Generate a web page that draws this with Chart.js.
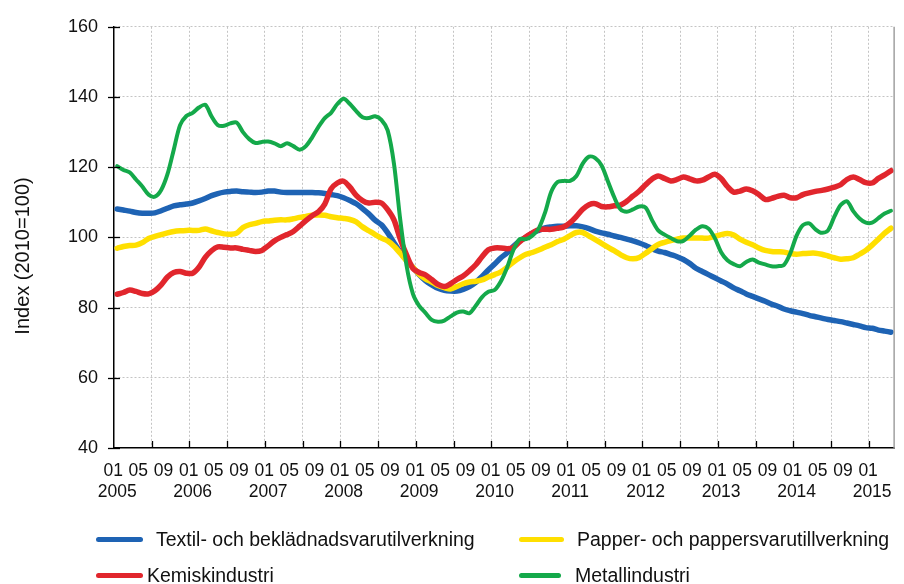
<!DOCTYPE html>
<html>
<head>
<meta charset="utf-8">
<script src="https://cdn.jsdelivr.net/npm/chart.js@4.4.1/dist/chart.umd.min.js"></script>
<style>
  html, body { margin: 0; padding: 0; background: #fff; }
  #wrap { position: relative; width: 904px; height: 584px; }
  canvas { position: absolute; left: 0; top: 0; }
  .lg { position: absolute; font-family: "Liberation Sans", Arial, sans-serif; font-size: 19.5px; color: #111; white-space: nowrap; line-height: 22px; }
  .sw { position: absolute; height: 5px; border-radius: 3px; }
</style>
</head>
<body>
<div id="wrap">
  <canvas id="c" width="904" height="584"></canvas>
</div>
<script>
// ---- Data (monthly index, 2010=100), Jan 2005 – Apr 2015 ----
const years = ['2005','2006','2007','2008','2009','2010','2011','2012','2013','2014','2015'];
const monthNames = ['01','02','03','04','05','06','07','08','09','10','11','12'];
const labeledMonths = ['01','05','09'];
const yTicks = [40, 60, 80, 100, 120, 140, 160];

const seriesNames = [
  'Textil- och beklädnadsvarutilverkning',
  'Papper- och pappersvarutillverkning',
  'Kemiskindustri',
  'Metallindustri'
];

const textil = [
 108.1,107.8,107.5,107.1,106.9,106.9,107.0,107.6,108.3,109.0,109.3,109.5,
 109.8,110.4,111.1,111.9,112.5,112.9,113.1,113.2,113.0,112.9,112.8,112.9,
 113.2,113.2,112.9,112.8,112.8,112.8,112.8,112.8,112.7,112.5,112.2,111.9,
 111.3,110.5,109.6,108.2,106.7,104.9,103.6,101.3,98.5,95.8,93.5,91.5,
 89.4,87.7,86.5,85.5,84.9,84.7,84.7,85.2,86.0,87.2,88.9,90.7,
 92.4,94.2,95.6,97.5,99.0,100.0,101.2,102.0,102.7,103.0,103.2,103.2,
 103.3,103.3,103.0,102.5,101.8,101.3,100.9,100.4,100.0,99.5,99.0,98.4,
 97.7,96.8,96.1,95.7,95.1,94.5,93.7,92.6,91.2,90.3,89.4,88.5,
 87.6,86.7,85.6,84.8,83.9,83.2,82.5,81.8,81.0,80.4,79.6,79.1,
 78.7,78.3,77.8,77.4,77.0,76.6,76.3,76.0,75.6,75.2,74.8,74.3,
 74.1,73.6,73.3,73.0
];
const papper = [
 96.9,97.4,97.7,97.8,98.5,99.7,100.3,100.8,101.3,101.7,101.9,102.0,
 102.0,102.0,102.4,101.9,101.4,101.0,100.9,101.2,102.8,103.6,104.0,104.5,
 104.7,104.9,105.0,105.0,105.3,105.7,106.0,106.3,106.4,106.3,105.9,105.6,
 105.4,105.1,104.4,103.0,101.9,100.8,99.8,99.0,97.5,95.5,93.3,91.5,
 89.5,88.2,87.3,86.3,85.7,85.3,86.0,86.8,87.3,87.5,87.9,88.7,
 89.4,90.2,91.5,93.0,94.2,95.2,95.7,96.4,97.2,97.9,98.8,99.5,
 100.5,101.4,101.4,100.4,99.4,98.3,97.2,96.2,95.1,94.2,93.9,94.3,
 95.5,96.8,98.0,98.6,99.1,99.5,99.8,99.8,99.8,99.8,99.8,100.3,
 100.8,101.1,100.7,99.5,98.6,97.9,97.0,96.3,96.0,95.9,95.8,95.4,
 95.2,95.4,95.5,95.5,95.2,94.7,94.2,93.8,93.9,94.2,95.2,96.3,
 97.8,99.5,101.2,102.6
];
const kemisk = [
 83.8,84.3,85.0,84.6,84.0,83.9,84.8,86.5,88.7,90.0,90.3,89.8,
 89.8,91.5,94.3,96.2,97.3,97.2,97.0,97.0,96.6,96.3,96.0,96.3,
 97.6,99.0,100.0,100.8,101.7,103.2,104.8,106.2,107.3,109.5,113.8,115.5,
 116.0,114.3,112.0,110.5,109.8,110.0,109.8,107.9,105.0,99.5,95.0,91.2,
 90.0,89.3,88.0,86.6,86.0,86.8,88.0,89.0,90.5,92.2,94.5,96.5,
 97.0,97.0,96.8,97.1,98.8,100.2,101.3,102.2,102.3,102.3,102.6,103.0,
 104.2,106.0,108.0,109.3,109.6,108.8,108.7,109.0,109.2,110.3,111.8,113.2,
 115.0,116.6,117.5,116.8,116.1,116.5,117.2,116.7,116.1,116.3,117.2,118.0,
 116.8,114.5,112.9,113.2,113.8,113.3,112.2,110.8,111.1,111.7,112.0,111.3,
 111.3,112.2,112.7,113.1,113.4,113.8,114.3,115.0,116.5,117.2,116.5,115.6,
 115.5,116.8,117.8,119.0
];
const metall = [
 120.3,119.2,118.5,116.5,114.5,112.2,111.6,113.5,118.0,125.0,132.0,134.6,
 135.5,137.0,137.8,134.5,132.0,131.8,132.5,132.7,130.0,128.0,126.9,127.2,
 127.3,126.8,126.0,126.8,126.0,125.0,126.0,128.5,131.5,134.0,135.5,138.0,
 139.5,138.0,136.0,134.2,134.0,134.5,133.5,130.5,121.0,105.0,92.0,84.0,
 80.5,78.5,76.5,76.0,76.3,77.5,78.6,78.9,78.4,80.5,83.0,84.5,
 85.0,87.5,91.5,96.5,99.5,99.5,100.5,102.5,107.0,113.0,115.8,116.1,
 116.1,117.5,121.0,123.0,122.6,120.5,116.0,111.5,108.0,107.3,108.0,108.8,
 108.5,105.0,102.0,100.8,99.8,98.9,99.0,100.5,102.2,103.2,102.5,99.8,
 95.8,93.5,92.4,91.8,93.0,93.7,92.8,92.3,91.8,91.8,92.2,95.5,
 100.5,103.5,104.0,102.3,101.3,102.0,105.9,109.2,110.3,107.5,105.4,104.2,
 104.2,105.5,106.8,107.6
];

// categories: one per month
const categories = [];
for (const y of years) for (const m of monthNames) {
  if (categories.length < textil.length) categories.push(y + '-' + m);
}

const colors = { textil: '#1e63b4', papper: '#ffdf00', kemisk: '#e1262d', metall: '#14a94a' };

// Legend (HTML, 2 columns)
const legendSpec = [
  { text: seriesNames[0], color: colors.textil, sx: 96, sw: 47, tx: 156, y: 539.5 },
  { text: seriesNames[1], color: colors.papper, sx: 519, sw: 45, tx: 577, y: 539.5 },
  { text: seriesNames[2], color: colors.kemisk, sx: 96, sw: 47, tx: 147, y: 575.5 },
  { text: seriesNames[3], color: colors.metall, sx: 519, sw: 42, tx: 575, y: 575.5 }
];
const wrap = document.getElementById('wrap');
legendSpec.forEach(l => {
  const s = document.createElement('div');
  s.className = 'sw';
  s.style.left = l.sx + 'px'; s.style.top = (l.y - 2.5) + 'px';
  s.style.width = l.sw + 'px'; s.style.background = l.color;
  wrap.appendChild(s);
  const t = document.createElement('div');
  t.className = 'lg';
  t.textContent = l.text;
  t.style.left = l.tx + 'px'; t.style.top = (l.y - 12) + 'px';
  wrap.appendChild(t);
});

const axisPlugin = {
  id: 'axisExtras',
  afterDraw(chart) {
    const ctx = chart.ctx, xs = chart.scales.x, ys = chart.scales.y, a = chart.chartArea;
    ctx.save();
    // right border
    ctx.strokeStyle = '#a0a0a0'; ctx.lineWidth = 1.5;
    ctx.beginPath(); ctx.moveTo(a.right, a.top); ctx.lineTo(a.right, a.bottom); ctx.stroke();
    // y tick marks crossing the axis
    ctx.strokeStyle = '#000'; ctx.lineWidth = 1.3;
    yTicks.forEach(v => {
      const py = Math.round(ys.getPixelForValue(v)) + 0.5;
      ctx.beginPath(); ctx.moveTo(a.left - 6, py); ctx.lineTo(a.left + 6, py); ctx.stroke();
    });
    // x tick marks (every 6 months, pointing up)
    for (let k = 6; k < categories.length; k += 6) {
      const px = Math.round(xs.getPixelForValue(k - 0.5)) + 0.5;
      ctx.beginPath(); ctx.moveTo(px, a.bottom); ctx.lineTo(px, a.bottom - 7); ctx.stroke();
    }
    // y axis title
    ctx.translate(23, 256);
    ctx.rotate(-Math.PI / 2);
    ctx.font = '20px "Liberation Sans", Arial, sans-serif';
    ctx.fillStyle = '#111';
    ctx.textAlign = 'center'; ctx.textBaseline = 'middle';
    ctx.fillText('Index (2010=100)', 0, 0);
    ctx.restore();
  }
};

const ds = (label, data, color, width, order) => ({
  label, data, borderColor: color, backgroundColor: color, borderWidth: width,
  pointRadius: 0, pointHoverRadius: 0, tension: 0.3, fill: false,
  borderCapStyle: 'round', borderJoinStyle: 'round', order
});

const tickFont = { family: '"Liberation Sans", Arial, sans-serif', size: 17.5, lineHeight: 1.2 };

new Chart(document.getElementById('c'), {
  type: 'line',
  data: {
    labels: categories,
    datasets: [
      ds(seriesNames[3], metall, colors.metall, 4, 0),
      ds(seriesNames[2], kemisk, colors.kemisk, 5.5, 1),
      ds(seriesNames[1], papper, colors.papper, 5.5, 2),
      ds(seriesNames[0], textil, colors.textil, 5.5, 3)
    ]
  },
  options: {
    responsive: false,
    devicePixelRatio: 1,
    animation: false,
    layout: { padding: { left: 0, right: 4, top: 20, bottom: 80 } },
    plugins: { legend: { display: false }, tooltip: { enabled: false } },
    scales: {
      x: {
        type: 'category',
        position: 'bottom',
        offset: true,
        afterFit(s) { s.height = 34; },
        grid: {
          offset: true,
          drawTicks: false,
          lineWidth: 1,
          color: c => (c.index % 6 === 0 && c.index > 0 && c.index < categories.length) ? '#c4c4c4' : 'rgba(0,0,0,0)'
        },
        border: { display: true, color: '#000', width: 1.5, dash: [2, 2] },
        ticks: {
          autoSkip: false, maxRotation: 0, minRotation: 0, padding: 13, labelOffset: -4,
          color: '#111', font: tickFont,
          callback: function (val, i) {
            const m = monthNames[i % 12];
            return labeledMonths.includes(m) ? m : '';
          }
        }
      },
      x2: {
        type: 'category',
        position: 'bottom',
        offset: true,
        afterFit(s) { s.height = 22; },
        grid: { display: false, drawTicks: false },
        border: { display: false },
        ticks: {
          autoSkip: false, maxRotation: 0, minRotation: 0, padding: 0, labelOffset: 0,
          color: '#111', font: tickFont,
          callback: function (val, i) {
            return (i % 12 === 0) ? years[Math.floor(i / 12)] : '';
          }
        }
      },
      y: {
        min: 40, max: 160,
        afterFit(s) { s.width = 114; },
        afterBuildTicks(s) { s.ticks = yTicks.map(v => ({ value: v })); },
        grid: {
          drawTicks: false,
          lineWidth: 1,
          color: c => (c.tick && c.tick.value > 40) ? '#c4c4c4' : 'rgba(0,0,0,0)'
        },
        border: { display: true, color: '#000', width: 1.5, dash: [2, 2] },
        ticks: {
          padding: 16, color: '#111',
          font: { family: '"Liberation Sans", Arial, sans-serif', size: 18 }
        }
      }
    }
  },
  plugins: [axisPlugin]
});
</script>
</body>
</html>
